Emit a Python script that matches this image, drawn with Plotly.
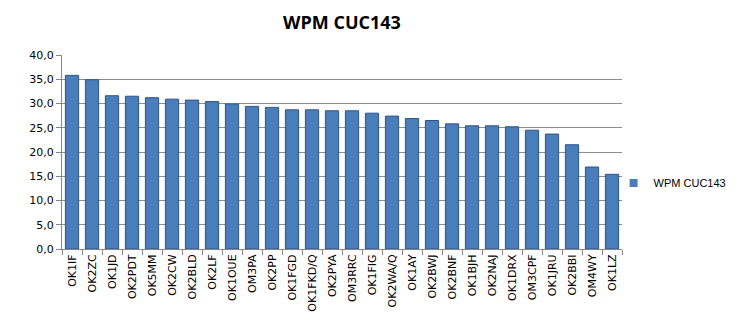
import plotly.graph_objects as go

categories = ["OK1IF", "OK2ZC", "OK1JD", "OK2PDT", "OK5MM", "OK2CW", "OK2BLD", "OK2LF",
              "OK1OUE", "OM3PA", "OK2PP", "OK1FGD", "OK1FKD/Q", "OK2PYA", "OM3RRC", "OK1FIG",
              "OK2WA/Q", "OK1AY", "OK2BWJ", "OK2BNF", "OK1BJH", "OK2NAJ", "OK1DRX", "OM3CPF",
              "OK1JRU", "OK2BBI", "OM4WY", "OK1LZ"]
values = [35.8, 34.9, 31.6, 31.5, 31.2, 30.9, 30.7, 30.4,
          29.9, 29.4, 29.2, 28.7, 28.7, 28.5, 28.5, 28.0,
          27.4, 26.9, 26.5, 25.8, 25.4, 25.4, 25.2, 24.5,
          23.7, 21.5, 16.9, 15.4]
series_name = "WPM CUC143"
y_ticks = [0, 5, 10, 15, 20, 25, 30, 35, 40]

bar_color = "#4A7EBB"

fig = go.Figure()
fig.add_trace(go.Bar(
    x=categories, y=values, name=series_name, showlegend=False,
    marker=dict(color=bar_color, line=dict(color="#2F5485", width=1)),
    width=0.66,
))
# legend-only entry with a small square key
fig.add_trace(go.Scatter(
    x=[None], y=[None], mode="markers", name=series_name,
    marker=dict(symbol="square", size=8, color=bar_color),
))

fig.update_layout(
    width=754, height=329,
    margin=dict(l=62, r=132, t=55, b=80),
    paper_bgcolor="white", plot_bgcolor="white",
    separators=", ",
    title=dict(text="<b>WPM CUC143</b>", x=0.5, xref="paper", xanchor="center",
               y=0.93, yref="container", yanchor="middle",
               font=dict(family="Open Sans, Liberation Sans, sans-serif", size=18, color="black")),
    font=dict(family="DejaVu Sans, sans-serif", size=11, color="black"),
    showlegend=True,
    legend=dict(x=0.985, xref="paper", xanchor="left", y=0.34, yanchor="middle",
                bgcolor="rgba(0,0,0,0)", font=dict(size=11, family="Liberation Sans, Arial, sans-serif"),
                itemwidth=30, tracegroupgap=0),
    bargap=0.3,
)
fig.update_xaxes(
    type="category", tickangle=-90, showgrid=False,
    showline=True, linecolor="#868686", linewidth=1,
    ticks="outside", tickson="boundaries", ticklen=5, tickcolor="#868686",
    tickfont=dict(size=11, color="black", family="DejaVu Sans, sans-serif"),
)
fig.update_yaxes(
    range=[0, 40], tickvals=y_ticks, tickformat=".1f",
    showgrid=True, gridcolor="#8C8C8C", gridwidth=1,
    showline=True, linecolor="#868686", linewidth=1,
    ticks="outside", ticklen=5, tickcolor="#868686",
    tickfont=dict(size=11, color="black", family="DejaVu Sans, sans-serif"), zeroline=False,
)

fig.write_html("out.html")
